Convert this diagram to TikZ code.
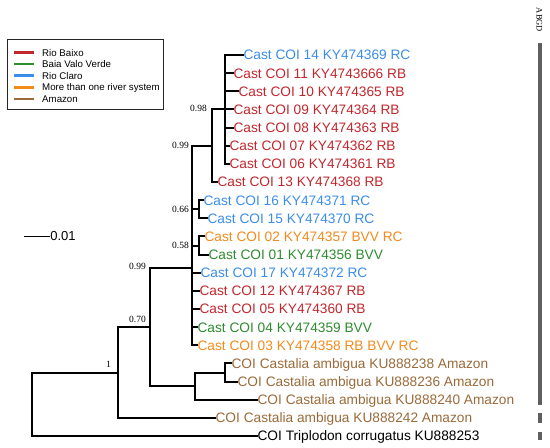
\documentclass[tikz,border=0pt]{standalone}
\usepackage{fontspec}
\setmainfont{Liberation Sans}
\newfontfamily\serifnum{Liberation Serif}
\definecolor{rb}{HTML}{C1272D}
\definecolor{bvv}{HTML}{2E8B2E}
\definecolor{rc}{HTML}{3B8DE8}
\definecolor{multi}{HTML}{F28A1D}
\definecolor{amz}{HTML}{9A6A3A}
\definecolor{abgd}{HTML}{5F5F5F}
\begin{document}
\begin{tikzpicture}[x=1pt,y=-1pt,
  branch/.style={line width=2pt, black, line join=miter, line cap=rect},
  tip/.style={anchor=west, inner sep=0.4pt, text height=9.8pt, text depth=0pt, font=\fontsize{13.7}{16}\selectfont},
  support/.style={anchor=east, inner sep=0pt, font=\serifnum\fontsize{9.5}{11}\selectfont},
  legline/.style={line width=2.6pt},
  legtext/.style={anchor=west, inner sep=0pt, text height=7pt, text depth=0pt, font=\fontsize{9.7}{11}\selectfont},
  bar/.style={line width=3.3pt, abgd}]
\useasboundingbox (0,0) rectangle (550,448);

% tips
\node[tip,text=rc] (t14) at (243,55.0) {Cast COI 14 KY474369 RC};
\node[tip,text=rb] (t11) at (233,73.1) {Cast COI 11 KY4743666 RB};
\node[tip,text=rb] (t10) at (238,91.3) {Cast COI 10 KY474365 RB};
\node[tip,text=rb] (t09) at (233,109.4) {Cast COI 09 KY474364 RB};
\node[tip,text=rb] (t08) at (233,127.6) {Cast COI 08 KY474363 RB};
\node[tip,text=rb] (t07) at (229,145.7) {Cast COI 07 KY474362 RB};
\node[tip,text=rb] (t06) at (229,163.8) {Cast COI 06 KY474361 RB};
\node[tip,text=rb] (t13) at (217,182.0) {Cast COI 13 KY474368 RB};
\node[tip,text=rc] (t16) at (203,200.1) {Cast COI 16 KY474371 RC};
\node[tip,text=rc] (t15) at (207,218.3) {Cast COI 15 KY474370 RC};
\node[tip,text=multi] (t02) at (204,236.4) {Cast COI 02 KY474357 BVV RC};
\node[tip,text=bvv] (t01) at (208,254.5) {Cast COI 01 KY474356 BVV};
\node[tip,text=rc] (t17) at (200,272.7) {Cast COI 17 KY474372 RC};
\node[tip,text=rb] (t12) at (199,290.8) {Cast COI 12 KY474367 RB};
\node[tip,text=rb] (t05) at (199,309.0) {Cast COI 05 KY474360 RB};
\node[tip,text=bvv] (t04) at (197,327.1) {Cast COI 04 KY474359 BVV};
\node[tip,text=multi] (t03) at (197,345.2) {Cast COI 03 KY474358 RB BVV RC};
\node[tip,text=amz] (a238) at (231,363.4) {COI Castalia ambigua KU888238 Amazon};
\node[tip,text=amz] (a236) at (237,381.5) {COI Castalia ambigua KU888236 Amazon};
\node[tip,text=amz] (a240) at (257,399.7) {COI Castalia ambigua KU888240 Amazon};
\node[tip,text=amz] (a242) at (215,417.8) {COI Castalia ambigua KU888242 Amazon};
\node[tip,text=black] (trip) at (257,436.0) {COI Triplodon corrugatus KU888253};

% internal nodes
\coordinate (n098) at (225,109.4);
\coordinate (n099a) at (212,145.7);
\coordinate (n066) at (199,209.2);
\coordinate (n058) at (199,245.5);
\coordinate (n099b) at (192,268.2);
\coordinate (namz2) at (225,372.5);
\coordinate (namz) at (195,386.1);
\coordinate (n070) at (150,327.1);
\coordinate (n1) at (118,372.5);
\coordinate (root) at (32,404.2);

% branches
\foreach \t in {t14,t11,t10,t09,t08,t07,t06} \draw[branch] (n098) |- (\t.west);
\draw[branch] (n099a) |- (n098);
\draw[branch] (n099a) |- (t13.west);
\draw[branch] (n066) |- (t16.west);
\draw[branch] (n066) |- (t15.west);
\draw[branch] (n058) |- (t02.west);
\draw[branch] (n058) |- (t01.west);
\foreach \c in {n099a,n066,n058,t17.west,t12.west,t05.west,t04.west,t03.west} \draw[branch] (n099b) |- (\c);
\draw[branch] (namz2) |- (a238.west);
\draw[branch] (namz2) |- (a236.west);
\draw[branch] (namz) |- (namz2);
\draw[branch] (namz) |- (a240.west);
\draw[branch] (n070) |- (n099b);
\draw[branch] (n070) |- (namz);
\draw[branch] (n1) |- (n070);
\draw[branch] (n1) |- (a242.west);
\draw[branch] (root) |- (n1);
\draw[branch] (root) |- (trip.west);

% support values
\node[support] (s098) at (207,108.5) {0.98};
\node[support] (s099a) at (189,145) {0.99};
\node[support] (s066) at (189,209) {0.66};
\node[support] (s058) at (189,245) {0.58};
\node[support] (s099b) at (146,266) {0.99};
\node[support] (s070) at (146,319) {0.70};
\node[support] (s1) at (111,364) {1};

% scale bar
\coordinate (sb0) at (24,236);
\node[anchor=west, inner sep=0.6pt, text height=9pt, text depth=0pt, font=\fontsize{13}{15}\selectfont] (sblab) at (49.5,236) {0.01};
\draw[line width=1pt] (sb0) -- (sblab.west);

% legend
\draw[line width=0.9pt, black!85] (7,39) rectangle (163,109);
\draw[legline, rb] (14,52.5) -- (34,52.5);
\node[legtext] (l1) at (42,52.5) {Rio Baixo};
\draw[legline, bvv] (14,64.1) -- (34,64.1);
\node[legtext] (l2) at (42,64.1) {Baia Valo Verde};
\draw[legline, rc] (14,75.7) -- (34,75.7);
\node[legtext] (l3) at (42,75.7) {Rio Claro};
\draw[legline, multi] (14,87.3) -- (34,87.3);
\node[legtext] (l4) at (42,87.3) {More than one river system};
\draw[legline, amz] (14,98.9) -- (34,98.9);
\node[legtext] (l5) at (42,98.9) {Amazon};

% ABGD
\node[rotate=-90, inner sep=0pt, font=\serifnum\fontsize{8.5}{9}\selectfont] (abgdlab) at (539.5,20) {ABGD};
\draw[bar] (540,43) -- (540,405);
\draw[bar] (540,413) -- (540,423);
\draw[bar] (540,432) -- (540,440);
\end{tikzpicture}
\end{document}
